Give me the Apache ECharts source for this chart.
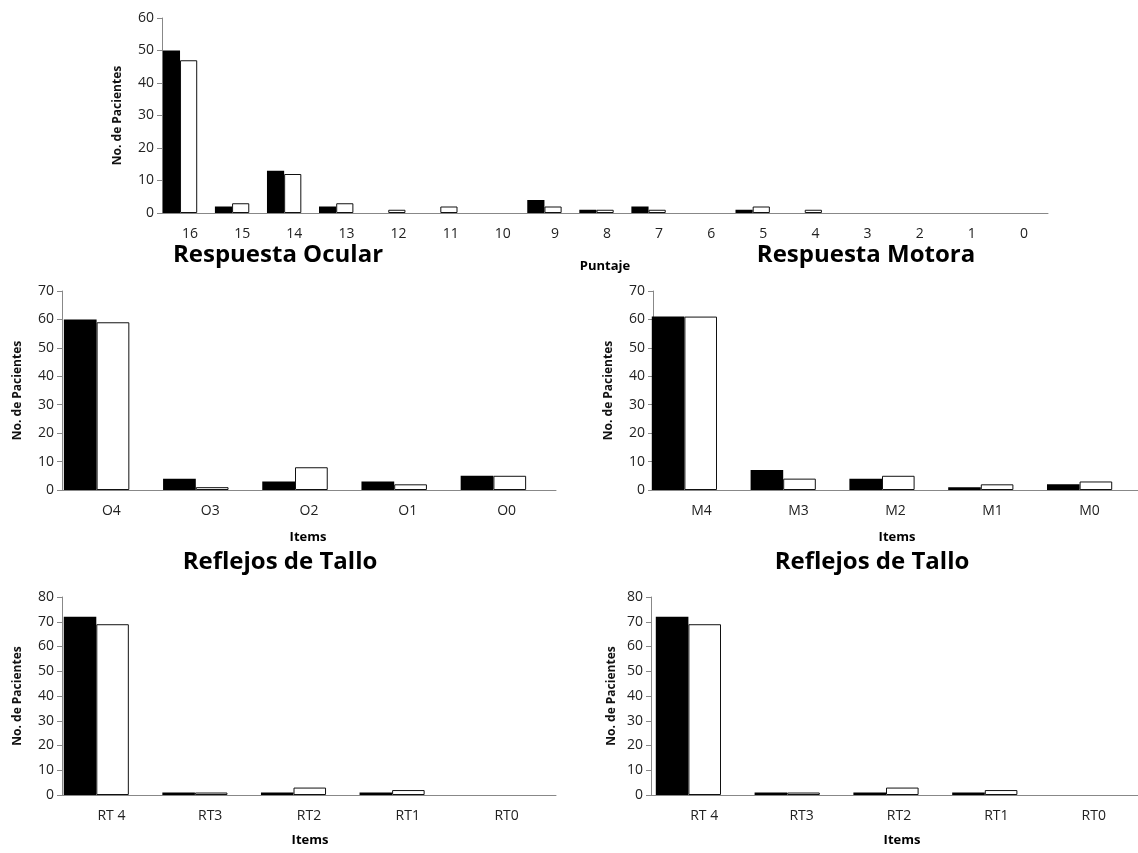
<!DOCTYPE html>
<html>
<head>
<meta charset="utf-8">
<script src="https://cdn.jsdelivr.net/npm/echarts@6/dist/echarts.min.js"></script>
<style>
html,body{margin:0;padding:0;background:#fff;overflow:hidden;}
#chart{width:1138px;height:853px;}
</style>
</head>
<body>
<div id="chart"></div>
<script>
// ---- Data ----
const puntajeCats = ['16','15','14','13','12','11','10','9','8','7','6','5','4','3','2','1','0'];
const puntajeBlack = [50, 2, 13, 2, 0, 0, 0, 4, 1, 2, 0, 1, 0, 0, 0, 0, 0];
const puntajeWhite = [47, 3, 12, 3, 1, 2, 0, 2, 1, 1, 0, 2, 1, 0, 0, 0, 0];

const ocularCats = ['O4','O3','O2','O1','O0'];
const ocularBlack = [60, 4, 3, 3, 5];
const ocularWhite = [59, 1, 8, 2, 5];

const motoraCats = ['M4','M3','M2','M1','M0'];
const motoraBlack = [61, 7, 4, 1, 2];
const motoraWhite = [61, 4, 5, 2, 3];

const tallo1Cats = ['RT 4','RT3','RT2','RT1','RT0'];
const tallo1Black = [72, 1, 1, 1, 0];
const tallo1White = [69, 1, 3, 2, 0];

const tallo2Cats = ['RT 4','RT3','RT2','RT1','RT0'];
const tallo2Black = [72, 1, 1, 1, 0];
const tallo2White = [69, 1, 3, 2, 0];

const yMax = [60, 70, 70, 80, 80];
const yTitle = 'No. de Pacientes';

// ---- Layout ----
const FONT = "'Open Sans', sans-serif";
// visible axes grids
const axisGrids = [
  {left: 162, top: 18, width: 886, height: 195},
  {left: 62, top: 291, width: 494, height: 199},
  {left: 653, top: 291, width: 488, height: 199},
  {left: 62, top: 597, width: 494, height: 198},
  {left: 651, top: 597, width: 495, height: 198}
];
// bar grids (bars sit slightly left of their labels, as in the original)
const barGrids = [
  {left: 154, top: 18, width: 885, height: 195},
  {left: 47, top: 291, width: 496, height: 199},
  {left: 635, top: 291, width: 494, height: 199},
  {left: 47, top: 597, width: 493, height: 198},
  {left: 639, top: 597, width: 494, height: 198}
];
const labelPad = [4, 0, 0, 0, 9];
const nameGaps = [38, 38, 38, 38, 33];
const catsList = [puntajeCats, ocularCats, motoraCats, tallo1Cats, tallo2Cats];
const blackList = [puntajeBlack, ocularBlack, motoraBlack, tallo1Black, tallo2Black];
const whiteList = [puntajeWhite, ocularWhite, motoraWhite, tallo1White, tallo2White];

const grid = axisGrids.concat(barGrids);
const xAxis = [], yAxis = [], series = [];
for (let i = 0; i < 5; i++) {
  xAxis.push({
    type: 'category', gridIndex: i, data: catsList[i],
    axisLine: {lineStyle: {color: '#888', width: 1}},
    axisTick: {show: false},
    axisLabel: {color: '#222', fontFamily: FONT, fontSize: 14, margin: 14,
      padding: [0, 0, 0, labelPad[i]]},
    splitLine: {show: false}
  });
  yAxis.push({
    type: 'value', gridIndex: i, min: 0, max: yMax[i], interval: 10,
    name: yTitle, nameLocation: 'middle', nameRotate: 90, nameGap: nameGaps[i],
    nameTextStyle: {fontFamily: FONT, fontWeight: 'bold', fontSize: 12, color: '#111'},
    axisLine: {show: true, lineStyle: {color: '#888', width: 1}},
    axisTick: {show: true, length: 5, lineStyle: {color: '#888'}},
    axisLabel: {color: '#222', fontFamily: FONT, fontSize: 14, margin: 8},
    splitLine: {show: false}
  });
}
for (let i = 0; i < 5; i++) {
  const g = 5 + i;
  xAxis.push({
    type: 'category', gridIndex: g, data: catsList[i], show: false
  });
  yAxis.push({
    type: 'value', gridIndex: g, min: 0, max: yMax[i], interval: 10, show: false,
    splitLine: {show: false}
  });
  const hideZero = v => v === 0 ? {value: v, itemStyle: {borderWidth: 0}} : v;
  series.push({
    type: 'bar', xAxisIndex: g, yAxisIndex: g, data: blackList[i].map(hideZero),
    barGap: '0%', barCategoryGap: '34%',
    itemStyle: {color: '#000', borderWidth: 0},
    silent: true
  });
  series.push({
    type: 'bar', xAxisIndex: g, yAxisIndex: g, data: whiteList[i].map(hideZero),
    barGap: '0%', barCategoryGap: '34%',
    itemStyle: {color: '#fff', borderColor: '#111', borderWidth: 1},
    silent: true
  });
}

function txt(x, y, s, size, weight) {
  return {type: 'text', x: x, y: y, silent: true,
    style: {text: s, fontFamily: FONT, fontSize: size, fontWeight: weight || 'bold',
      fill: '#000', align: 'center', verticalAlign: 'middle'}};
}

const graphic = [
  txt(278, 255, 'Respuesta Ocular', 24),
  txt(866, 255, 'Respuesta Motora', 24),
  txt(605, 266, 'Puntaje', 13),
  txt(308, 537, 'Items', 13),
  txt(897, 537, 'Items', 13),
  txt(280, 562, 'Reflejos de Tallo', 24),
  txt(872, 562, 'Reflejos de Tallo', 24),
  txt(310, 840, 'Items', 13),
  txt(902, 840, 'Items', 13)
];

const chart = echarts.init(document.getElementById('chart'), null, {renderer: 'canvas'});
chart.setOption({
  animation: false,
  backgroundColor: '#fff',
  grid: grid,
  xAxis: xAxis,
  yAxis: yAxis,
  series: series,
  graphic: graphic
});
</script>
</body>
</html>
